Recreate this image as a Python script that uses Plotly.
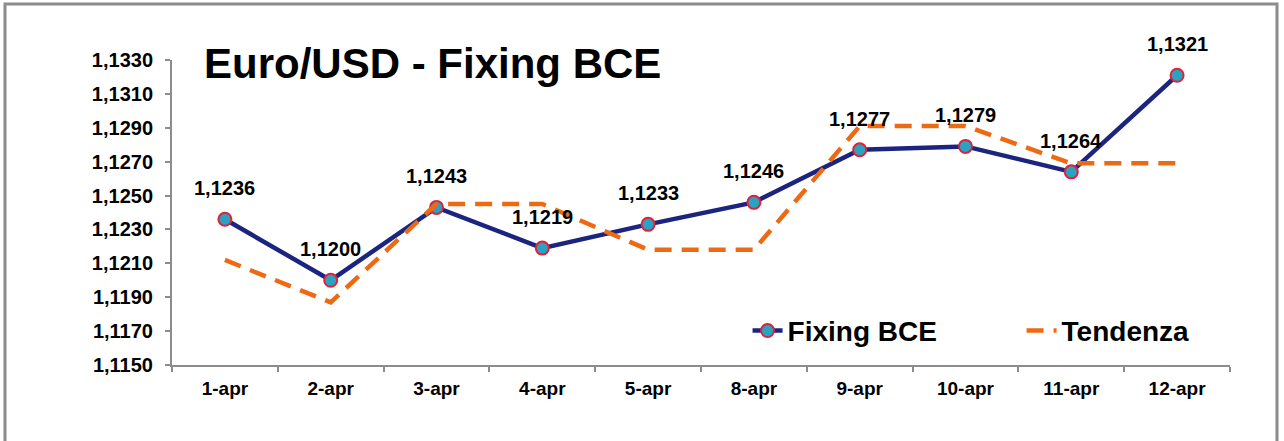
import plotly.graph_objects as go

categories = ["1-apr", "2-apr", "3-apr", "4-apr", "5-apr", "8-apr", "9-apr", "10-apr", "11-apr", "12-apr"]
fixing = [1.1236, 1.1200, 1.1243, 1.1219, 1.1233, 1.1246, 1.1277, 1.1279, 1.1264, 1.1321]
tendenza = [1.1212, 1.1187, 1.1245, 1.1245, 1.1218, 1.1218, 1.1291, 1.1291, 1.1269, 1.1269]
y_ticks = [1.1150, 1.1170, 1.1190, 1.1210, 1.1230, 1.1250, 1.1270, 1.1290, 1.1310, 1.1330]

FONT = "Liberation Sans, Arial, sans-serif"

fig = go.Figure()
fig.add_trace(go.Scatter(
    x=categories, y=fixing, name="<b>Fixing BCE</b>", mode="lines+markers",
    line=dict(color="#1B2580", width=4.5),
    marker=dict(size=13, color="#2AA3C2", line=dict(color="#E0213A", width=2)),
    legend="legend",
))
fig.add_trace(go.Scatter(
    x=categories, y=tendenza, name="<b>Tendenza</b>", mode="lines",
    line=dict(color="#EE6A12", width=4.5, dash="17px,10px"),
    legend="legend2",
))

for c, v in zip(categories, fixing):
    fig.add_annotation(x=c, y=v, text="<b>" + f"{v:.4f}".replace(".", ",") + "</b>", showarrow=False,
                       yshift=31, font=dict(family=FONT, size=20, color="black"))

fig.add_annotation(xref="paper", yref="paper", x=0.028, y=0.988, xanchor="left", yanchor="middle",
                   text="<b>Euro/USD - Fixing BCE</b>", showarrow=False,
                   font=dict(family=FONT, size=42, color="black"))

# outer border
fig.add_shape(type="rect", xref="paper", yref="paper",
              x0=(5 - 172) / 1058, x1=(1277 - 172) / 1058,
              y0=(365 - 445) / 305, y1=(365 - 4) / 305,
              line=dict(color="#8C8C8C", width=3), layer="below")

legfont = dict(family=FONT, size=28, color="black")
fig.update_layout(
    width=1284, height=441,
    margin=dict(l=172, r=54, t=60, b=76),
    paper_bgcolor="white", plot_bgcolor="white",
    separators=",.",
    showlegend=True,
    legend=dict(orientation="h", x=0.544, y=0.112, xanchor="left", yanchor="middle",
                font=legfont, bgcolor="rgba(0,0,0,0)"),
    legend2=dict(orientation="h", x=0.803, y=0.112, xanchor="left", yanchor="middle",
                 font=legfont, bgcolor="rgba(0,0,0,0)"),
    xaxis=dict(type="category", range=[-0.5, 9.5], showgrid=False,
               showline=True, linecolor="#8C8C8C", linewidth=2,
               ticks="outside", tickson="boundaries", ticklen=5, tickcolor="#8C8C8C", tickwidth=2,
               ticklabelstandoff=5,
               tickfont=dict(family=FONT, size=19, color="black", weight="bold")),
    yaxis=dict(range=[1.1150, 1.1330], tickvals=y_ticks, tickformat=".4f", showgrid=False,
               showline=True, linecolor="#8C8C8C", linewidth=2,
               ticks="outside", ticklen=5, tickcolor="#8C8C8C", tickwidth=2,
               ticklabelstandoff=8,
               tickfont=dict(family=FONT, size=20, color="black", weight="bold"), zeroline=False),
)

fig.write_html("out.html", config={"displayModeBar": False},
               post_script="document.body.style.margin='0px';")
